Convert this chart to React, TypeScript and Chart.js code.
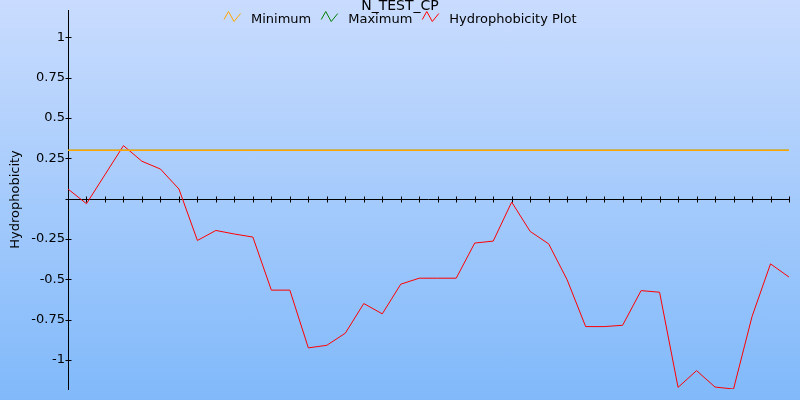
import React, { useEffect, useRef } from 'react';
import { Chart, registerables } from 'chart.js';

Chart.register(...registerables);

const chartTitle = 'N_TEST_CP';
const yAxisTitle = 'Hydrophobicity';

const positions = [
  '1', '2', '3', '4', '5', '6', '7', '8', '9', '10',
  '11', '12', '13', '14', '15', '16', '17', '18', '19', '20',
  '21', '22', '23', '24', '25', '26', '27', '28', '29', '30',
  '31', '32', '33', '34', '35', '36', '37', '38', '39', '40',
];

const minimumValues = [
  0.3, 0.3, 0.3, 0.3, 0.3, 0.3, 0.3, 0.3, 0.3, 0.3,
  0.3, 0.3, 0.3, 0.3, 0.3, 0.3, 0.3, 0.3, 0.3, 0.3,
  0.3, 0.3, 0.3, 0.3, 0.3, 0.3, 0.3, 0.3, 0.3, 0.3,
  0.3, 0.3, 0.3, 0.3, 0.3, 0.3, 0.3, 0.3, 0.3, 0.3,
];

const maximumValues = [
  0.3, 0.3, 0.3, 0.3, 0.3, 0.3, 0.3, 0.3, 0.3, 0.3,
  0.3, 0.3, 0.3, 0.3, 0.3, 0.3, 0.3, 0.3, 0.3, 0.3,
  0.3, 0.3, 0.3, 0.3, 0.3, 0.3, 0.3, 0.3, 0.3, 0.3,
  0.3, 0.3, 0.3, 0.3, 0.3, 0.3, 0.3, 0.3, 0.3, 0.3,
];

const hydrophobicityValues = [
  0.06, -0.031, 0.149, 0.329, 0.232, 0.184, 0.06, -0.259, -0.197, -0.219,
  -0.238, -0.567, -0.567, -0.925, -0.909, -0.834, -0.65, -0.714, -0.53, -0.493,
  -0.493, -0.493, -0.275, -0.263, -0.021, -0.203, -0.28, -0.503, -0.793, -0.793,
  -0.785, -0.57, -0.58, -1.17, -1.066, -1.168, -1.18, -0.731, -0.404, -0.486,
];

const yMin = -1.18;
const yMax = 1.17;
const yStep = 0.25;

const FONT = "'DejaVu Sans', Verdana, sans-serif";

const overlayPlugin = {
  id: 'overlay',
  beforeDatasetsDraw(chart: any) {
    const { ctx, chartArea, scales } = chart;
    const xs = scales.x;
    const ys = scales.y;
    ctx.save();
    ctx.strokeStyle = '#000';
    ctx.lineWidth = 1;
    // x axis along value 0
    const y0 = Math.round(ys.getPixelForValue(0)) + 0.5;
    ctx.beginPath();
    ctx.moveTo(chartArea.left, y0);
    ctx.lineTo(chartArea.right, y0);
    ctx.stroke();
    // crossing x tick marks
    for (let i = 0; i < positions.length; i++) {
      const px = Math.round(xs.getPixelForValue(i)) + 0.5;
      ctx.beginPath();
      ctx.moveTo(px, y0 - 3);
      ctx.lineTo(px, y0 + 3);
      ctx.stroke();
    }
    // crossing y tick marks
    const ax = Math.round(chartArea.left) + 0.5;
    ys.ticks.forEach((t: any) => {
      const py = Math.round(ys.getPixelForValue(t.value)) + 0.5;
      ctx.beginPath();
      ctx.moveTo(ax - 3, py);
      ctx.lineTo(ax + 3, py);
      ctx.stroke();
    });
    ctx.restore();
  },
  afterDraw(chart: any) {
    const { ctx, width } = chart;
    ctx.save();
    // title
    ctx.fillStyle = '#000';
    ctx.font = `14px ${FONT}`;
    ctx.textAlign = 'center';
    ctx.textBaseline = 'alphabetic';
    ctx.fillText(chartTitle, width / 2, 10);
    // legend
    ctx.font = `13px ${FONT}`;
    ctx.textAlign = 'left';
    const iconW = 17;
    const gapIconText = 10;
    const gapItems = 10;
    const items = chart.data.datasets.map((d: any) => ({
      label: d.label,
      color: d.borderColor,
      w: ctx.measureText(d.label).width,
    }));
    let total = 0;
    items.forEach((it: any, i: number) => {
      total += iconW + gapIconText + it.w + (i > 0 ? gapItems : 0);
    });
    let x = Math.round(width / 2 - total / 2);
    items.forEach((it: any) => {
      ctx.strokeStyle = it.color;
      ctx.lineWidth = 1;
      ctx.beginPath();
      ctx.moveTo(x, 19.5);
      ctx.lineTo(x + 4.5, 11.5);
      ctx.lineTo(x + 10, 21.5);
      ctx.lineTo(x + 16.5, 13.5);
      ctx.stroke();
      ctx.fillStyle = '#000';
      ctx.fillText(it.label, x + iconW + gapIconText, 23);
      x += iconW + gapIconText + it.w + gapItems;
    });
    ctx.restore();
  },
};

export default function App() {
  const canvasRef = useRef<HTMLCanvasElement | null>(null);

  useEffect(() => {
    const canvas = canvasRef.current;
    if (!canvas) return;
    Chart.defaults.font.family = FONT;
    const chart = new Chart(canvas, {
      type: 'line',
      data: {
        labels: positions,
        datasets: [
          {
            label: 'Minimum',
            data: minimumValues,
            borderColor: '#ffa500',
            backgroundColor: '#ffa500',
            borderWidth: 1.5,
            pointRadius: 0,
            tension: 0,
            fill: false,
          },
          {
            label: 'Maximum',
            data: maximumValues,
            borderColor: '#008000',
            backgroundColor: '#008000',
            borderWidth: 1,
            pointRadius: 0,
            tension: 0,
            fill: false,
          },
          {
            label: 'Hydrophobicity Plot',
            data: hydrophobicityValues,
            borderColor: '#ff0000',
            backgroundColor: '#ff0000',
            borderWidth: 1,
            pointRadius: 0,
            tension: 0,
            fill: false,
          },
        ],
      },
      options: {
        animation: false,
        responsive: false,
        devicePixelRatio: 1,
        layout: { padding: { left: 0, top: 10, right: 11, bottom: 11 } },
        plugins: {
          legend: { display: false },
          title: { display: false },
          tooltip: { enabled: false },
        },
        scales: {
          x: {
            type: 'category',
            display: false,
            offset: false,
          },
          y: {
            type: 'linear',
            min: yMin,
            max: yMax,
            afterFit: (scale: any) => {
              scale.width = 68;
            },
            border: { display: true, color: '#000', width: 1 },
            grid: { display: false, drawTicks: true, tickLength: 3 },
            ticks: {
              stepSize: yStep,
              includeBounds: false,
              padding: 0,
              color: '#000',
              font: { size: 13, family: FONT },
              callback: (v: any) => (Number(v) === 0 ? '' : String(Number(v))),
            },
            title: {
              display: true,
              text: yAxisTitle,
              color: '#000',
              font: { size: 13, family: FONT },
              padding: { top: 8, bottom: 0 },
            },
          },
        },
      },
      plugins: [overlayPlugin],
    });
    return () => chart.destroy();
  }, []);

  return (
    <div style={{ position: 'absolute', left: 0, top: 0, width: 800, height: 400 }}>
      <canvas
        ref={canvasRef}
        width={800}
        height={400}
        style={{
          display: 'block',
          width: 800,
          height: 400,
          background: 'linear-gradient(to bottom, #c9dcfe 0%, #80b9fa 100%)',
        }}
      />
    </div>
  );
}
